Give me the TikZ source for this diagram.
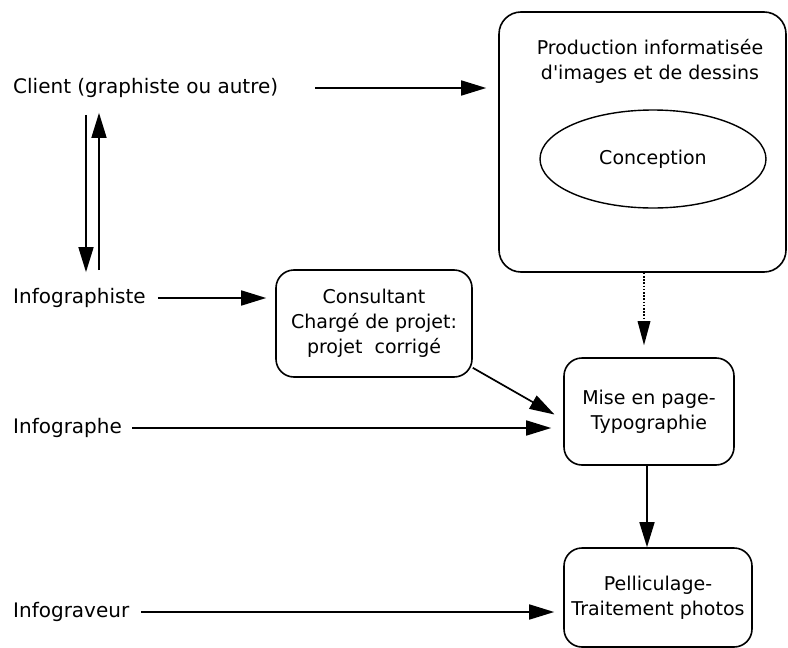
\documentclass[tikz,border=0pt]{standalone}
\usepackage{fontspec}
\setmainfont{DejaVu Sans}
\usetikzlibrary{arrows.meta,calc,shapes.geometric}
\begin{document}
\begin{tikzpicture}[x=1pt,y=-1pt,
  lbl/.style={font=\fontsize{20}{25}\selectfont, anchor=west, inner sep=0pt},
  boxtxt/.style={font=\fontsize{19}{25}\selectfont, align=center},
  rbox/.style={draw, line width=1.6pt, rounded corners=18pt, inner sep=0pt},
  arr/.style={line width=1.7pt, -{Triangle[length=25pt,width=15pt]}},
]
\useasboundingbox (0,0) rectangle (788,648);
% boxes
\node[rbox, rounded corners=22pt, minimum width=287pt, minimum height=260pt] (big) at (642.5,142) {};
\node[boxtxt] (prod) at (650,61) {Production informatisée\\d\textquotesingle images et de dessins};
\node[draw, ellipse, line width=1.4pt, minimum width=226pt, minimum height=98pt, boxtxt] (conc) at (653,159) {Conception};
\node[rbox, boxtxt, minimum width=196pt, minimum height=107pt] (consult) at (374,323.5) {Consultant\\Chargé de projet:\\projet\ \ corrigé};
\node[rbox, boxtxt, minimum width=170pt, minimum height=107pt] (mise) at (649,411.5) {Mise en page-\\Typographie};
\node[rbox, boxtxt, minimum width=188pt, minimum height=99pt] (pell) at (658,597.5) {Pelliculage-\\Traitement photos};
% left labels
\node[lbl] (client) at (13,88) {Client (graphiste ou autre)};
\node[lbl] (infographiste) at (13,298) {Infographiste};
\node[lbl] (infographe) at (13,428) {Infographe};
\node[lbl] (infograveur) at (13,612) {Infograveur};
% connectors
\draw[arr, shorten <=37pt, shorten >=12pt] (client.east) -- (client.east -| big.west);
\draw[arr, shorten <=17pt, shorten >=16pt] ([xshift=73pt]client.south west) -- ([xshift=73pt]infographiste.north west);
\draw[arr, shorten <=18pt, shorten >=15pt] ([xshift=86pt]infographiste.north west) -- ([xshift=86pt]client.south west);
\draw[arr, shorten <=12pt, shorten >=9pt] (infographiste.east) -- (infographiste.east -| consult.west);
\draw[arr, shorten >=10pt] ($(consult.south east)+(0,-10)$) -- ($(mise.west)+(0,8)$);
\draw[arr, shorten <=10pt, shorten >=12pt] (infographe.east) -- (infographe.east -| mise.west);
\draw[arr, shorten <=12pt, shorten >=9pt] (infograveur.east) -- (infograveur.east -| pell.west);
\draw[arr] ($(mise.south)+(-2,0)$) -- ($(mise.south |- pell.north)+(-2,0)$);
% dotted connector
\coordinate (dtip) at ($(big.south |- mise.north)+(1.5,-12)$);
\draw[line width=1.6pt, dash pattern=on 1.6pt off 1.6pt, shorten >=22pt] ($(big.south)+(1.5,0)$) -- (dtip);
\fill (dtip) -- ++(-6.5,-24) -- ++(13,0) -- cycle;
\end{tikzpicture}
\end{document}
